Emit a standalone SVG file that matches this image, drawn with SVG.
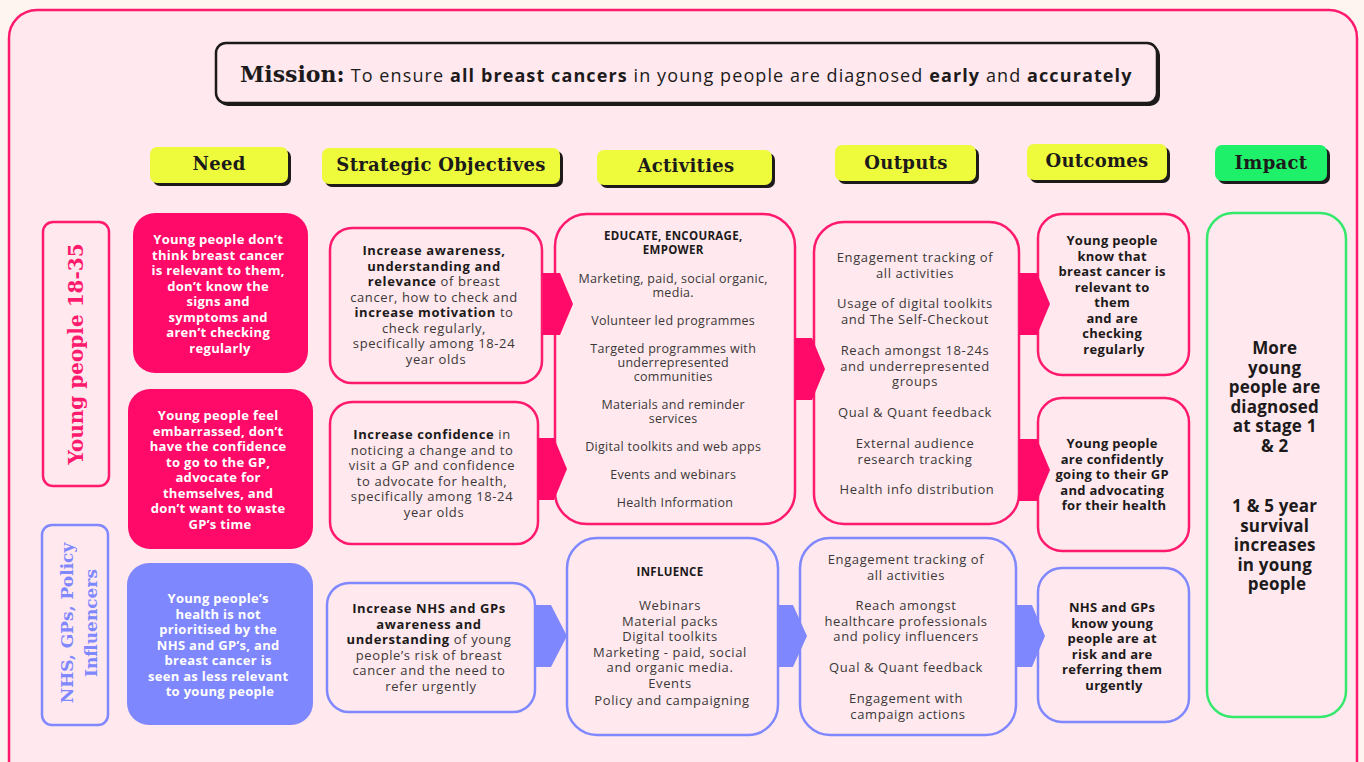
<svg xmlns="http://www.w3.org/2000/svg" width="1364" height="762" viewBox="0 0 1364 762">
  <defs>
    <style>
      .slab { font-family: "DejaVu Serif", "Liberation Serif", serif; font-weight: bold; }
      .hdr { font-size: 18px; letter-spacing: 0.3px; fill: #1c1a1a; text-anchor: middle; }
      .sans { font-family: "Open Sans", "Liberation Sans", sans-serif; }
      .body { font-size: 13px; letter-spacing: 0.6px; fill: #3a3838; text-anchor: middle; }
      .tight { font-size: 12.5px; letter-spacing: 0.3px; }
      .b { font-weight: bold; fill: #1c1a1a; }
      .need { font-size: 13px; letter-spacing: 0.3px; font-weight: bold; fill: #ffffff; text-anchor: middle; }
      .oc { font-size: 13px; letter-spacing: 0.3px; font-weight: bold; fill: #1c1a1a; text-anchor: middle; }
      .imp { font-size: 17px; letter-spacing: 0.2px; font-weight: bold; fill: #1c1a1a; text-anchor: middle; }
      .pinkbox { fill: #ffe8ee; stroke: #ff1a6e; stroke-width: 2.5; }
      .bluebox { fill: #ffe8ee; stroke: #8088ff; stroke-width: 2.5; }
      .shadow { fill: #1c1a1a; }
      .yellow { fill: #eefa3c; }
      .green { fill: #1ff06a; }
      .pinkarrow { fill: #ff0a68; }
      .bluearrow { fill: #7f87ff; }
    </style>
  </defs>

  <!-- page and frame -->
  <rect x="0" y="0" width="1364" height="762" fill="#fff5f0"/>
  <rect x="9" y="10" width="1348" height="780" rx="28" fill="#ffe8ee" stroke="#ff1a6e" stroke-width="2.5"/>

  <!-- mission banner -->
  <g id="mission">
    <rect x="218" y="45" width="942" height="61" rx="10" fill="#1c1a1a"/>
    <rect x="216" y="43" width="941" height="60" rx="10" fill="#ffe8ee" stroke="#1c1a1a" stroke-width="2.5"/>
    <text x="240" y="82"><tspan class="slab" font-size="22" fill="#1c1a1a">Mission:</tspan><tspan class="sans" font-size="18" letter-spacing="1.1" fill="#1c1a1a" dx="6">To ensure <tspan font-weight="bold">all breast cancers</tspan> in young people are diagnosed <tspan font-weight="bold">early</tspan> and <tspan font-weight="bold">accurately</tspan></tspan></text>
  </g>

  <!-- column headers -->
  <g id="hdr-need">
    <rect class="shadow" x="153" y="150" width="138" height="36" rx="7"/>
    <rect class="yellow" x="150" y="147" width="138" height="36" rx="7"/>
    <text class="slab hdr" x="219" y="170">Need</text>
  </g>
  <g id="hdr-objectives">
    <rect class="shadow" x="325" y="151" width="238" height="36" rx="7"/>
    <rect class="yellow" x="322" y="148" width="238" height="36" rx="7"/>
    <text class="slab hdr" x="441" y="171">Strategic Objectives</text>
  </g>
  <g id="hdr-activities">
    <rect class="shadow" x="600" y="153" width="175" height="35" rx="7"/>
    <rect class="yellow" x="597" y="150" width="175" height="35" rx="7"/>
    <text class="slab hdr" x="686" y="172">Activities</text>
  </g>
  <g id="hdr-outputs">
    <rect class="shadow" x="838" y="148" width="141" height="36" rx="7"/>
    <rect class="yellow" x="835" y="145" width="141" height="36" rx="7"/>
    <text class="slab hdr" x="906" y="169">Outputs</text>
  </g>
  <g id="hdr-outcomes">
    <rect class="shadow" x="1030" y="147" width="140" height="36" rx="7"/>
    <rect class="yellow" x="1027" y="144" width="140" height="36" rx="7"/>
    <text class="slab hdr" x="1097" y="167">Outcomes</text>
  </g>
  <g id="hdr-impact">
    <rect class="shadow" x="1218" y="148" width="112" height="36" rx="7"/>
    <rect class="green" x="1215" y="145" width="112" height="36" rx="7"/>
    <text class="slab hdr" x="1271" y="169">Impact</text>
  </g>

  <!-- audience labels -->
  <g id="label-young">
    <rect x="43" y="222" width="66" height="264" rx="10" fill="none" stroke="#ff1a6e" stroke-width="2.5"/>
    <text class="slab" font-size="20" fill="#ff1a6e" text-anchor="middle" transform="translate(83 354) rotate(-90)">Young people 18-35</text>
  </g>
  <g id="label-nhs">
    <rect x="42" y="525" width="66" height="200" rx="10" fill="none" stroke="#8088ff" stroke-width="2.5"/>
    <text class="slab" font-size="17" fill="#8088ff" text-anchor="middle" transform="translate(73 623) rotate(-90)">NHS, GPs, Policy</text>
    <text class="slab" font-size="17" fill="#8088ff" text-anchor="middle" transform="translate(97 623) rotate(-90)">Influencers</text>
  </g>

  <!-- needs -->
  <g id="need-1">
    <rect x="133" y="213" width="175" height="160" rx="22" fill="#ff0a68"/>
    <text class="sans need">
      <tspan x="220" y="244">Young people don’t</tspan>
      <tspan x="220" y="259.5">think breast cancer</tspan>
      <tspan x="220" y="275">is relevant to them,</tspan>
      <tspan x="220" y="290.5">don’t know the</tspan>
      <tspan x="220" y="306">signs and</tspan>
      <tspan x="220" y="321.5">symptoms and</tspan>
      <tspan x="220" y="337">aren’t checking</tspan>
      <tspan x="220" y="352.5">regularly</tspan>
    </text>
  </g>
  <g id="need-2">
    <rect x="128" y="389" width="185" height="160" rx="22" fill="#ff0a68"/>
    <text class="sans need">
      <tspan x="220" y="420">Young people feel</tspan>
      <tspan x="220" y="435.5">embarrassed, don’t</tspan>
      <tspan x="220" y="451">have the confidence</tspan>
      <tspan x="220" y="466.5">to go to the GP,</tspan>
      <tspan x="220" y="482">advocate for</tspan>
      <tspan x="220" y="497.5">themselves, and</tspan>
      <tspan x="220" y="513">don’t want to waste</tspan>
      <tspan x="220" y="528.5">GP’s time</tspan>
    </text>
  </g>
  <g id="need-3">
    <rect x="127" y="563" width="186" height="162" rx="22" fill="#7f87ff"/>
    <text class="sans need">
      <tspan x="220" y="603">Young people’s</tspan>
      <tspan x="220" y="618.5">health is not</tspan>
      <tspan x="220" y="634">prioritised by the</tspan>
      <tspan x="220" y="649.5">NHS and GP’s, and</tspan>
      <tspan x="220" y="665">breast cancer is</tspan>
      <tspan x="220" y="680.5">seen as less relevant</tspan>
      <tspan x="220" y="696">to young people</tspan>
    </text>
  </g>

  <!-- strategic objectives -->
  <g id="objective-1">
    <rect class="pinkbox" x="330" y="228" width="212" height="155" rx="22"/>
    <text class="sans body">
      <tspan x="436" y="255" class="b">Increase awareness,</tspan>
      <tspan x="436" y="270.5" class="b">understanding and</tspan>
      <tspan x="436" y="286"><tspan class="b">relevance</tspan> of breast</tspan>
      <tspan x="436" y="301.5">cancer, how to check and</tspan>
      <tspan x="436" y="317"><tspan class="b">increase  motivation</tspan> to</tspan>
      <tspan x="436" y="332.5">check regularly,</tspan>
      <tspan x="436" y="348">specifically among 18-24</tspan>
      <tspan x="436" y="363.5">year olds</tspan>
    </text>
  </g>
  <g id="objective-2">
    <rect class="pinkbox" x="330" y="402" width="208" height="142" rx="22"/>
    <text class="sans body">
      <tspan x="434" y="439"><tspan class="b">Increase confidence</tspan> in</tspan>
      <tspan x="434" y="454.5">noticing a change and to</tspan>
      <tspan x="434" y="470">visit a GP and confidence</tspan>
      <tspan x="434" y="485.5">to advocate for health,</tspan>
      <tspan x="434" y="501">specifically among 18-24</tspan>
      <tspan x="434" y="516.5">year olds</tspan>
    </text>
  </g>
  <g id="objective-3">
    <rect class="bluebox" x="327" y="583" width="208" height="129" rx="22"/>
    <text class="sans body">
      <tspan x="431" y="613" class="b">Increase NHS and GPs</tspan>
      <tspan x="431" y="628.5" class="b">awareness and</tspan>
      <tspan x="431" y="644"><tspan class="b">understanding</tspan> of young</tspan>
      <tspan x="431" y="659.5">people’s risk of breast</tspan>
      <tspan x="431" y="675">cancer and the need to</tspan>
      <tspan x="431" y="690.5">refer urgently</tspan>
    </text>
  </g>

  <!-- activities -->
  <g id="activity-1">
    <rect class="pinkbox" x="555" y="214" width="240" height="310" rx="32"/>
    <text class="sans body tight">
      <tspan x="675" y="240" class="b" font-size="11.5">EDUCATE, ENCOURAGE,</tspan>
      <tspan x="675" y="254" class="b" font-size="11.5">EMPOWER</tspan>
      <tspan x="675" y="283">Marketing, paid, social organic,</tspan>
      <tspan x="675" y="297">media.</tspan>
      <tspan x="675" y="325">Volunteer led programmes</tspan>
      <tspan x="675" y="353">Targeted programmes with</tspan>
      <tspan x="675" y="367">underrepresented</tspan>
      <tspan x="675" y="381">communities</tspan>
      <tspan x="675" y="409">Materials and reminder</tspan>
      <tspan x="675" y="423">services</tspan>
      <tspan x="675" y="451">Digital toolkits and web apps</tspan>
      <tspan x="675" y="479">Events and webinars</tspan>
      <tspan x="675" y="507">Health Information</tspan>
    </text>
  </g>
  <g id="activity-2">
    <rect class="bluebox" x="567" y="538" width="211" height="197" rx="30"/>
    <text class="sans body">
      <tspan x="672" y="576" class="b" font-size="11.5" letter-spacing="0.3">INFLUENCE</tspan>
      <tspan x="672" y="610">Webinars</tspan>
      <tspan x="672" y="625.5">Material packs</tspan>
      <tspan x="672" y="641">Digital toolkits</tspan>
      <tspan x="672" y="656.5">Marketing - paid, social</tspan>
      <tspan x="672" y="672">and organic media.</tspan>
      <tspan x="672" y="687.5">Events</tspan>
      <tspan x="672" y="705">Policy and campaigning</tspan>
    </text>
  </g>

  <!-- outputs -->
  <g id="output-1">
    <rect class="pinkbox" x="814" y="222" width="205" height="302" rx="30"/>
    <text class="sans body">
      <tspan x="917" y="262">Engagement tracking of</tspan>
      <tspan x="917" y="277.5">all activities</tspan>
      <tspan x="917" y="308">Usage of digital toolkits</tspan>
      <tspan x="917" y="323.5">and The Self-Checkout</tspan>
      <tspan x="917" y="355">Reach amongst 18-24s</tspan>
      <tspan x="917" y="370.5">and underrepresented</tspan>
      <tspan x="917" y="386">groups</tspan>
      <tspan x="917" y="417">Qual &amp; Quant feedback</tspan>
      <tspan x="917" y="448">External audience</tspan>
      <tspan x="917" y="463.5">research tracking</tspan>
      <tspan x="917" y="494">Health info distribution</tspan>
    </text>
  </g>
  <g id="output-2">
    <rect class="bluebox" x="800" y="538" width="216" height="197" rx="30"/>
    <text class="sans body">
      <tspan x="908" y="564">Engagement tracking of</tspan>
      <tspan x="908" y="579.5">all activities</tspan>
      <tspan x="908" y="610">Reach amongst</tspan>
      <tspan x="908" y="625.5">healthcare professionals</tspan>
      <tspan x="908" y="641">and policy influencers</tspan>
      <tspan x="908" y="672">Qual &amp; Quant feedback</tspan>
      <tspan x="908" y="703">Engagement with</tspan>
      <tspan x="908" y="718.5">campaign actions</tspan>
    </text>
  </g>

  <!-- outcomes -->
  <g id="outcome-1">
    <rect class="pinkbox" x="1038" y="214" width="151" height="161" rx="24"/>
    <text class="sans oc">
      <tspan x="1114" y="245">Young people</tspan>
      <tspan x="1114" y="260.5">know that</tspan>
      <tspan x="1114" y="276">breast cancer is</tspan>
      <tspan x="1114" y="291.5">relevant to</tspan>
      <tspan x="1114" y="307">them</tspan>
      <tspan x="1114" y="322.5">and are</tspan>
      <tspan x="1114" y="338">checking</tspan>
      <tspan x="1114" y="353.5">regularly</tspan>
    </text>
  </g>
  <g id="outcome-2">
    <rect class="pinkbox" x="1038" y="398" width="151" height="153" rx="24"/>
    <text class="sans oc">
      <tspan x="1114" y="448">Young people</tspan>
      <tspan x="1114" y="463.5">are confidently</tspan>
      <tspan x="1114" y="479">going to their GP</tspan>
      <tspan x="1114" y="494.5">and advocating</tspan>
      <tspan x="1114" y="510">for their health</tspan>
    </text>
  </g>
  <g id="outcome-3">
    <rect class="bluebox" x="1038" y="568" width="151" height="154" rx="24"/>
    <text class="sans oc">
      <tspan x="1114" y="612">NHS and GPs</tspan>
      <tspan x="1114" y="627.5">know young</tspan>
      <tspan x="1114" y="643">people are at</tspan>
      <tspan x="1114" y="658.5">risk and are</tspan>
      <tspan x="1114" y="674">referring them</tspan>
      <tspan x="1114" y="689.5">urgently</tspan>
    </text>
  </g>

  <!-- impact -->
  <g id="impact">
    <rect x="1207" y="213" width="139" height="504" rx="26" fill="#ffe8ee" stroke="#33e86a" stroke-width="2.5"/>
    <text class="sans imp">
      <tspan x="1277" y="354">More</tspan>
      <tspan x="1277" y="373.5">young</tspan>
      <tspan x="1277" y="393">people are</tspan>
      <tspan x="1277" y="412.5">diagnosed</tspan>
      <tspan x="1277" y="432">at stage 1</tspan>
      <tspan x="1277" y="451.5">&amp; 2</tspan>
      <tspan x="1277" y="512">1 &amp; 5 year</tspan>
      <tspan x="1277" y="531.5">survival</tspan>
      <tspan x="1277" y="551">increases</tspan>
      <tspan x="1277" y="570.5">in young</tspan>
      <tspan x="1277" y="590">people</tspan>
    </text>
  </g>

  <!-- connectors: block arrows between columns -->
  <g id="connectors">
    <polygon class="pinkarrow" points="543,273 560,273 573,304 560,335 543,335"/>
    <polygon class="pinkarrow" points="538,438 554,438 567,469 554,500 538,500"/>
    <polygon class="pinkarrow" points="795,338 812,338 825,369 812,400 795,400"/>
    <polygon class="pinkarrow" points="1019,273 1037,273 1050,304 1037,335 1019,335"/>
    <polygon class="pinkarrow" points="1019,439 1037,439 1050,470 1037,501 1019,501"/>
    <polygon class="bluearrow" points="535,605 551,605 567,636 551,667 535,667"/>
    <polygon class="bluearrow" points="778,605 793,605 807,636 793,667 778,667"/>
    <polygon class="bluearrow" points="1016,605 1032,605 1045,636 1032,667 1016,667"/>
  </g>
</svg>
